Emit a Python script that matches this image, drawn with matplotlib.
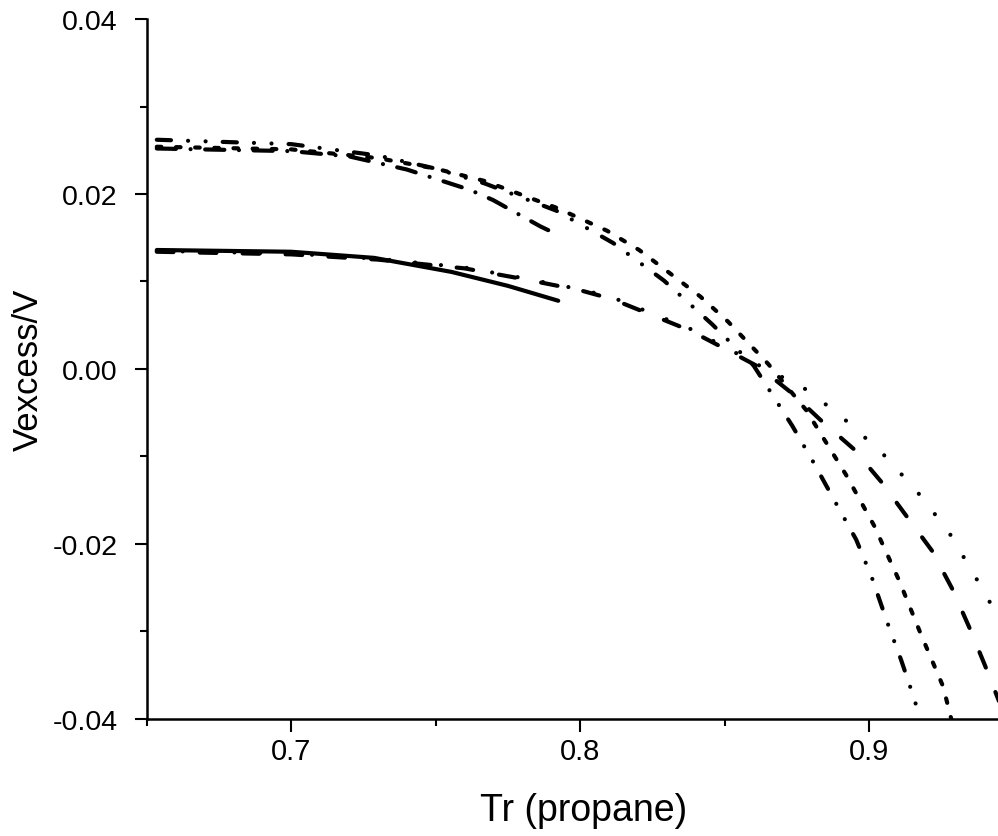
import matplotlib
matplotlib.use('Agg')
import matplotlib.pyplot as plt
from matplotlib.ticker import MultipleLocator

plt.rcParams['font.family'] = ['Liberation Sans', 'DejaVu Sans']
plt.rcParams['axes.unicode_minus'] = False

##################################################
# curves (Tr, Vexcess/V)

# upper group, dash-dot-dot
tr_a = [0.6535, 0.70, 0.73, 0.75, 0.767, 0.7917, 0.8114, 0.829, 0.8457,
        0.860, 0.8734, 0.8806, 0.8886, 0.8955, 0.9010, 0.9062, 0.9111, 0.9156, 0.9176]
v_a = [0.0262, 0.0257, 0.0244, 0.0229, 0.0212, 0.0181, 0.0144, 0.0101, 0.0051,
       0.0004, -0.0065, -0.0106, -0.0154, -0.0195, -0.0239, -0.0289, -0.0333, -0.0377, -0.0400]

# upper group, short dash
tr_b = [0.6535, 0.70, 0.73, 0.75, 0.7668, 0.792, 0.8093, 0.8204, 0.8308, 0.8415,
        0.8512, 0.8650, 0.8782, 0.892, 0.9017, 0.9104, 0.918, 0.9256, 0.9284]
v_b = [0.0254, 0.0251, 0.0241, 0.0229, 0.0215, 0.0184, 0.0158, 0.0136, 0.0110, 0.0083,
       0.0054, 0.0006, -0.0047, -0.0121, -0.0179, -0.0242, -0.0304, -0.0363, -0.0400]

# upper group, dash-dot (short range)
tr_u3 = [0.6535, 0.70, 0.72, 0.74, 0.7616, 0.7699, 0.7862, 0.790]
v_u3 = [0.0252, 0.0249, 0.0243, 0.0228, 0.0205, 0.0193, 0.0163, 0.0157]

# lower group, solid (short range)
tr_s = [0.6535, 0.70, 0.7287, 0.7554, 0.775, 0.7924]
v_s = [0.0136, 0.0134, 0.0127, 0.0111, 0.0095, 0.0078]

# lower group, long dash
tr_c = [0.6535, 0.70, 0.73, 0.76, 0.78, 0.80, 0.811, 0.823, 0.838, 0.849, 0.862,
        0.8734, 0.8834, 0.8945, 0.9042, 0.9131, 0.9218, 0.9287, 0.9346, 0.9401, 0.9446, 0.950]
v_c = [0.0134, 0.0131, 0.0125, 0.0115, 0.0103, 0.0090, 0.0080, 0.0064, 0.0044, 0.0025, 0.0002,
       -0.0028, -0.0059, -0.0091, -0.0129, -0.0169, -0.0208, -0.0251, -0.0295, -0.0339, -0.0377, -0.0420]

# lower group, dotted
tr_d = [0.6535, 0.70, 0.73, 0.76, 0.78, 0.80, 0.811, 0.823, 0.838, 0.849, 0.862,
        0.8775, 0.8844, 0.8913, 0.9042, 0.9163, 0.9273, 0.9363, 0.9446, 0.950]
v_d = [0.0135, 0.0132, 0.0126, 0.0116, 0.0104, 0.0091, 0.0082, 0.0066, 0.0046, 0.0027, 0.0004,
       -0.0022, -0.0039, -0.0057, -0.0095, -0.0139, -0.0185, -0.0235, -0.0283, -0.0305]

xticks = [0.7, 0.8, 0.9]
xtick_labels = ['0.7', '0.8', '0.9']
yticks = [-0.04, -0.02, 0.00, 0.02, 0.04]
ytick_labels = ['-0.04', '-0.02', '0.00', '0.02', '0.04']

##################################################
def main():
	fig = plt.figure(figsize=(9.98, 8.37), dpi=100)
	ax = fig.add_axes([0.147, 0.1398, 0.8687, 0.8363])

	lw = 3.0
	kw = dict(color='black', lw=lw, dash_capstyle='round', solid_capstyle='round')
	ax.plot(tr_s, v_s, **kw)
	ax.plot(tr_c, v_c, dashes=(4.0, 6.3), **kw)
	ax.plot(tr_d, v_d, dashes=(0.01, 6.2), **kw)
	ax.plot(tr_u3, v_u3, dashes=(4.6, 3.5, 0.01, 3.5), **kw)
	ax.plot(tr_b, v_b, dashes=(1.1, 3.5), **kw)
	ax.plot(tr_a, v_a, dashes=(3.4, 4.1, 0.01, 4.2, 0.01, 4.1), **kw)

	ax.set_xlim(0.65, 0.95)
	ax.set_ylim(-0.04, 0.04)

	ax.spines['top'].set_visible(False)
	ax.spines['right'].set_visible(False)
	ax.spines['left'].set_linewidth(1.8)
	ax.spines['bottom'].set_linewidth(1.8)

	ax.set_xticks(xticks)
	ax.set_xticklabels(xtick_labels, family=['Liberation Sans Narrow', 'Liberation Sans'], fontsize=21)
	ax.set_yticks(yticks)
	ax.set_yticklabels(ytick_labels, fontsize=20.5)
	ax.xaxis.set_minor_locator(MultipleLocator(0.05))
	ax.yaxis.set_minor_locator(MultipleLocator(0.01))
	ax.tick_params(which='major', direction='out', length=9, width=1.5)
	ax.tick_params(which='minor', direction='out', length=5, width=1.5)
	ax.tick_params(axis='y', which='major', pad=12)
	ax.tick_params(axis='x', which='major', pad=4)

	ax.set_xlabel('Tr (propane)', fontsize=27)
	ax.set_ylabel('Vexcess/V', fontsize=25)
	ax.xaxis.set_label_coords(0.504, -0.105, transform=ax.transAxes)
	ax.xaxis.label.set_va('top')
	ax.yaxis.set_label_coords(-0.118, 0.5, transform=ax.transAxes)

	fig.savefig('out.png', dpi=100)


##################################################
if __name__ == '__main__':
	main()
